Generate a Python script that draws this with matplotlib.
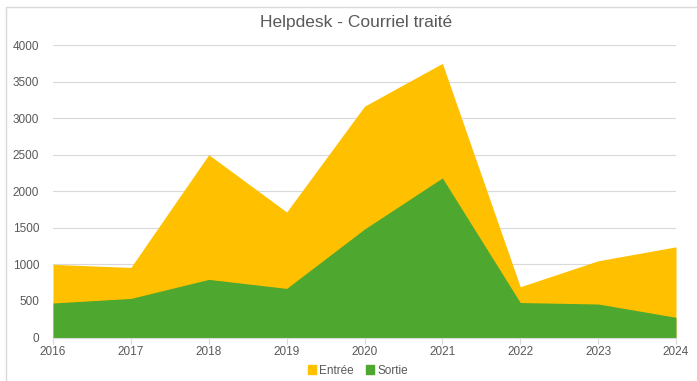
import matplotlib
matplotlib.use("Agg")
import matplotlib.pyplot as plt
from matplotlib.patches import Rectangle, Patch

years = [2016, 2017, 2018, 2019, 2020, 2021, 2022, 2023, 2024]
entree = [1000, 958, 2500, 1716, 3163, 3749, 694, 1049, 1240]
sortie = [472, 534, 795, 671, 1483, 2182, 478, 458, 276]

plt.rcParams['font.family'] = ['Liberation Sans', 'DejaVu Sans']
txt = '#595959'
grid = '#D9D9D9'

W, H = 697, 381
fig = plt.figure(figsize=(W/100, H/100), dpi=100)
fig.patches.append(Rectangle((6/W, -10/H), 700/W, (H - 7 + 10)/H,
                             transform=fig.transFigure, zorder=-10,
                             facecolor='white', edgecolor=grid, linewidth=1))
ax = fig.add_axes([53/W, 1 - 337.5/H, (676-53)/W, (337.5-45)/H])
ax.fill_between(years, entree, 0, color='#FFC000', linewidth=0, label='Entrée')
ax.fill_between(years, sortie, 0, color='#4EA72E', linewidth=0, label='Sortie')
ax.set_xlim(2016, 2024)
ax.set_ylim(0, 4000)
ax.set_yticks(range(0, 4001, 500))
ax.set_xticks(years)
ax.grid(axis='y', color=grid, linewidth=0.8)
ax.set_axisbelow(True)
for s in ['top', 'right', 'left']:
    ax.spines[s].set_visible(False)
ax.spines['bottom'].set_color(grid)
ax.tick_params(axis='y', length=0, labelsize=8.5, labelcolor=txt, pad=10)
ax.tick_params(axis='x', length=4, color=grid, labelsize=8.5, labelcolor=txt, pad=2)
ax.set_facecolor('none')
fig.text(356/W, 1 - 22/H, 'Helpdesk - Courriel traité', ha='center', va='center',
         fontsize=12.5, color=txt)
handles = [Patch(color='#FFC000', label='Entrée'), Patch(color='#4EA72E', label='Sortie')]
fig.legend(handles=handles, loc='center', bbox_to_anchor=(358/W, 1 - 370.5/H), ncol=2,
           frameon=False, fontsize=8.5, labelcolor=txt, handlelength=0.7, handleheight=0.7,
           handletextpad=0.3, columnspacing=1.0)
fig.savefig('out.png', dpi=100)
